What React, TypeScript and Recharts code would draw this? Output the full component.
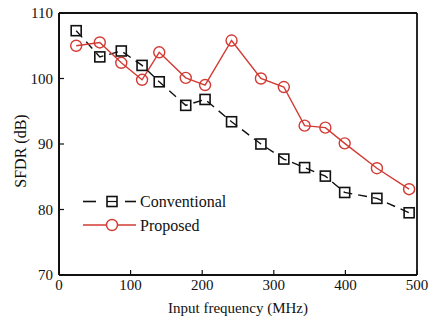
import { Label, Line, LineChart, ReferenceLine, XAxis, YAxis } from 'recharts'

const freqs = [24, 57, 87, 116, 140, 177, 204, 241, 282, 314, 343, 372, 399, 444, 489]
const conventional = [107.3, 103.3, 104.2, 102, 99.5, 95.9, 96.8, 93.4, 90, 87.7, 86.4, 85.1, 82.6, 81.7, 79.5]
const proposed = [105, 105.5, 102.4, 99.8, 104, 100.1, 99, 105.8, 100, 98.7, 92.8, 92.5, 90.1, 86.3, 83.1]
const xTicks = [0, 100, 200, 300, 400, 500]
const yTicks = [70, 80, 90, 100, 110]

const RED = '#d23a33'
const FONT = '"Liberation Serif", "DejaVu Serif", serif'

const data = freqs.map((f, i) => ({ f, conventional: conventional[i], proposed: proposed[i] }))

function SquareDot({ cx, cy }: any) {
  if (cx == null || cy == null) return null
  return <rect x={cx - 5} y={cy - 5} width={10} height={10} fill="none" stroke="#111" strokeWidth={1.6} />
}

function CircleDot({ cx, cy }: any) {
  if (cx == null || cy == null) return null
  return <circle cx={cx} cy={cy} r={5.5} fill="none" stroke={RED} strokeWidth={1.4} />
}

// ticks point into the plot, labels outside
function XTick({ x, y, payload }: any) {
  return (
    <g>
      <line x1={x} y1={y - 5} x2={x} y2={y - 10} stroke="#111" strokeWidth={1.2} />
      <text x={x} y={y + 10} textAnchor="middle" fontSize={15} fontFamily={FONT} fill="#111">
        {payload.value}
      </text>
    </g>
  )
}

function YTick({ x, y, payload }: any) {
  return (
    <g>
      <line x1={x + 5} y1={y} x2={x + 10} y2={y} stroke="#111" strokeWidth={1.2} />
      <text x={x - 1} y={y + 5} textAnchor="end" fontSize={15} fontFamily={FONT} fill="#111">
        {payload.value}
      </text>
    </g>
  )
}

function YTitle({ viewBox }: any) {
  const cx = viewBox.x + 20
  const cy = viewBox.y + viewBox.height / 2 + 7
  return (
    <text x={cx} y={cy} transform={`rotate(-90 ${cx} ${cy})`} textAnchor="middle" dominantBaseline="central" fontSize={16} fontFamily={FONT} fill="#111">
      SFDR (dB)
    </text>
  )
}

function LegendBox() {
  return (
    <svg width={170} height={44} style={{ position: 'absolute', left: 83, top: 193, overflow: 'visible' }}>
      <g>
        <line x1={0} y1={8.5} x2={13} y2={8.5} stroke="#111" strokeWidth={1.6} />
        <rect x={24} y={3.5} width={10} height={10} fill="#fff" stroke="#111" strokeWidth={1.6} />
        <line x1={24} y1={8.5} x2={34} y2={8.5} stroke="#111" strokeWidth={1.2} />
        <line x1={42} y1={8.5} x2={53} y2={8.5} stroke="#111" strokeWidth={1.6} />
        <text x={57} y={14} fontSize={16} fontFamily={FONT} fill="#111">Conventional</text>
      </g>
      <g>
        <line x1={0} y1={32} x2={53} y2={32} stroke={RED} strokeWidth={1.4} />
        <circle cx={29} cy={32} r={5.5} fill="#fff" stroke={RED} strokeWidth={1.4} />
        <text x={57} y={37.5} fontSize={16} fontFamily={FONT} fill="#111">Proposed</text>
      </g>
    </svg>
  )
}

export default function App() {
  return (
    <div style={{ position: 'absolute', left: 0, top: 0, width: 437, height: 325, background: '#fff', fontFamily: FONT }}>
      <LineChart width={437} height={325} data={data} margin={{ top: 13, right: 20, bottom: 0, left: 0 }}>
        <XAxis
          dataKey="f"
          type="number"
          domain={[0, 500]}
          ticks={xTicks}
          height={50}
          tickSize={0}
          tickMargin={5}
          tick={<XTick />}
          axisLine={{ stroke: '#111', strokeWidth: 2 }}
          tickLine={false}
        >
          <Label value="Input frequency (MHz)" position="insideBottom" offset={12} fontSize={15} fontFamily={FONT} fill="#111" />
        </XAxis>
        <YAxis
          type="number"
          domain={[70, 110]}
          ticks={yTicks}
          width={59}
          tickSize={0}
          tickMargin={5}
          tick={<YTick />}
          axisLine={{ stroke: '#111', strokeWidth: 2 }}
          tickLine={false}
        >
          <Label content={<YTitle />} />
        </YAxis>
        <ReferenceLine y={110} stroke="#111" strokeWidth={1.8} />
        <ReferenceLine x={500} stroke="#111" strokeWidth={1.8} />
        <Line
          dataKey="conventional"
          stroke="#111"
          strokeWidth={1.4}
          strokeDasharray="9 6"
          dot={<SquareDot />}
          activeDot={false}
          isAnimationActive={false}
        />
        <Line
          dataKey="proposed"
          stroke={RED}
          strokeWidth={1.4}
          dot={<CircleDot />}
          activeDot={false}
          isAnimationActive={false}
        />
      </LineChart>
      <LegendBox />
    </div>
  )
}
